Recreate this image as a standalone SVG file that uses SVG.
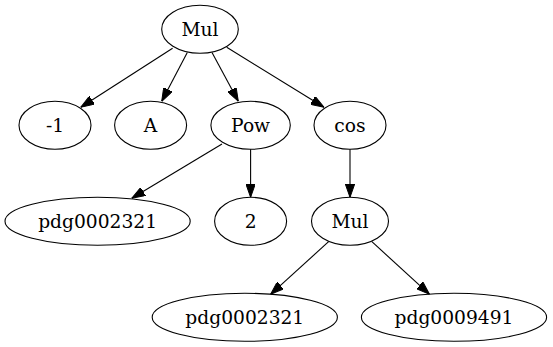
<svg xmlns="http://www.w3.org/2000/svg" width="553" height="347" viewBox="0 0 553 347">
<style>
ellipse{fill:none;stroke:#000;stroke-width:1.1}
text{font-family:"DejaVu Serif","Liberation Serif",serif;font-size:18.67px;text-anchor:middle;fill:#000}
.e line{stroke:#000;stroke-width:1.1}
</style>
<defs>
<marker id="ah" viewBox="0 0 13.3 9.4" refX="13.3" refY="4.7" markerWidth="13.3" markerHeight="9.4" markerUnits="userSpaceOnUse" orient="auto">
<path d="M0,0 L13.3,4.7 L0,9.4 z" fill="#000" stroke="#000" stroke-width="1"/>
</marker>
</defs>
<rect width="553" height="347" fill="#fff"/>
<g id="edges" class="e">
<line x1="172.6" y1="48.3" x2="80.8" y2="107.3" marker-end="url(#ah)"/>
<line x1="187.3" y1="52.5" x2="161.7" y2="101.3" marker-end="url(#ah)"/>
<line x1="212" y1="52.5" x2="238.3" y2="101.3" marker-end="url(#ah)"/>
<line x1="226.7" y1="47.3" x2="324" y2="107.3" marker-end="url(#ah)"/>
<line x1="222" y1="144" x2="131.8" y2="198.3" marker-end="url(#ah)"/>
<line x1="250.6" y1="149.3" x2="250.6" y2="197.3" marker-end="url(#ah)"/>
<line x1="350" y1="149.3" x2="350" y2="197.3" marker-end="url(#ah)"/>
<line x1="328.6" y1="241.7" x2="270.6" y2="294.3" marker-end="url(#ah)"/>
<line x1="371.9" y1="241.7" x2="429.5" y2="294.3" marker-end="url(#ah)"/>
</g>
<g id="n_mul1"><ellipse cx="200" cy="29.3" rx="38.3" ry="24"/><text x="200" y="35.8">Mul</text></g>
<g id="n_m1"><ellipse cx="55" cy="125.3" rx="36" ry="24"/><text x="55" y="131.8">-1</text></g>
<g id="n_a"><ellipse cx="150.6" cy="125.3" rx="36" ry="24"/><text x="150.6" y="131.8">A</text></g>
<g id="n_pow"><ellipse cx="250.6" cy="125.3" rx="39.7" ry="24"/><text x="250.6" y="131.8">Pow</text></g>
<g id="n_cos"><ellipse cx="350" cy="125.3" rx="36" ry="24"/><text x="350" y="131.8">cos</text></g>
<g id="n_pdg1"><ellipse cx="97.6" cy="221.3" rx="92.6" ry="24"/><text x="97.6" y="227.8">pdg0002321</text></g>
<g id="n_2"><ellipse cx="250.6" cy="221.3" rx="36" ry="24"/><text x="250.6" y="227.8">2</text></g>
<g id="n_mul2"><ellipse cx="350" cy="221.3" rx="38.5" ry="24"/><text x="350" y="227.8">Mul</text></g>
<g id="n_pdg2"><ellipse cx="244.8" cy="317.3" rx="92.6" ry="24"/><text x="244.8" y="323.8">pdg0002321</text></g>
<g id="n_pdg3"><ellipse cx="454" cy="317.3" rx="92.6" ry="24"/><text x="454" y="323.8">pdg0009491</text></g>
</svg>
